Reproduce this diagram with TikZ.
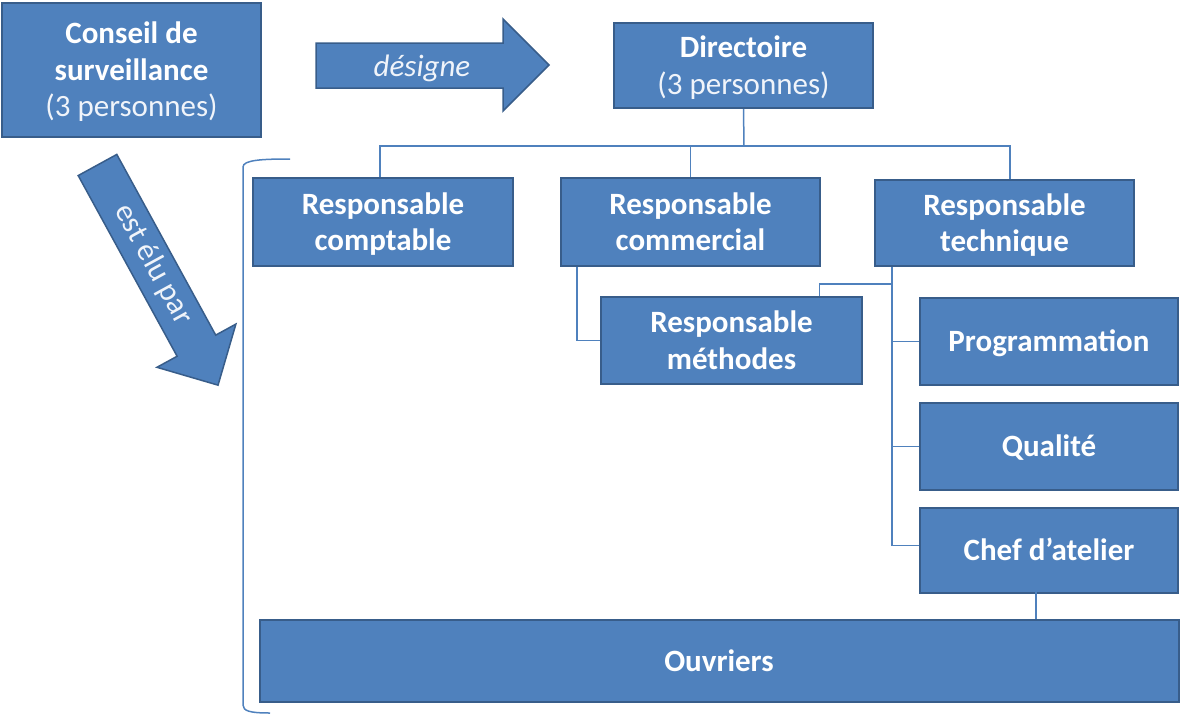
\documentclass[tikz,border=0pt]{standalone}
\usepackage{fontspec}
\setmainfont{Carlito}
\definecolor{boxfill}{RGB}{79,129,189}
\definecolor{boxline}{RGB}{56,93,138}
\definecolor{connline}{RGB}{79,129,189}
\definecolor{lighttext}{RGB}{240,244,250}
\newcommand\bs{\rule[-7.95pt]{0pt}{36.5pt}}
\begin{document}
\begin{tikzpicture}[x=1pt,y=-1pt,
  box/.style={rectangle, fill=boxfill, draw=boxline, line width=2pt, inner sep=0pt,
    text=white, align=center, font=\fontsize{31}{36.5}\selectfont\bfseries},
  conn/.style={draw=connline, line width=1.5pt},
  bigarrow/.style={fill=boxfill, draw=boxline, line width=1.5pt, line join=miter},
  arrowtext/.style={text=lighttext, font=\fontsize{31}{36}\selectfont, inner sep=0pt}]
\useasboundingbox (0,0) rectangle (1180,715);

% boxes
\node[box, minimum width=259pt, minimum height=134pt] (conseil) at (131.5,70)
  {\bs Conseil de\\\bs surveillance\\{\mdseries\color{lighttext}\bs(3 personnes)}};
\node[box, minimum width=259pt, minimum height=85pt] (dir) at (743.5,65.5)
  {\bs Directoire\\{\mdseries\color{lighttext}\bs(3 personnes)}};
\node[box, minimum width=260pt, minimum height=88pt] (rcompt) at (383,222) {\bs Responsable\\\bs comptable};
\node[box, minimum width=259pt, minimum height=88pt] (rcomm) at (690.5,222) {\bs Responsable\\\bs commercial};
\node[box, minimum width=259pt, minimum height=86pt] (rtech) at (1004.5,223) {\bs Responsable\\\bs technique};
\node[box, minimum width=261pt, minimum height=87pt] (rmeth) at (731.5,340.5) {\bs Responsable\\\bs méthodes};
\node[box, minimum width=258pt, minimum height=87pt] (prog) at (1049,341.5) {\bs Programmation};
\node[box, minimum width=258pt, minimum height=87pt] (qual) at (1049,446.5) {\bs Qualité};
\node[box, minimum width=258pt, minimum height=85pt] (chef) at (1049,550.5) {\bs Chef d’atelier};
\node[box, minimum width=919pt, minimum height=82pt] (ouv) at (719,661) {\bs Ouvriers};

% connectors from Directoire
\coordinate (bus) at (744,146);
\draw[conn] (dir.south) -- (bus);
\draw[conn] ([xshift=-3pt]rcompt.north) |- (bus) -| ([xshift=5.5pt]rtech.north);
\draw[conn] (rcomm.north) -- (rcomm.north |- bus);

% commercial -> methodes
\draw[conn] ([xshift=17pt]rcomm.south west) |- (rmeth.west);

% technique branches
\coordinate (tb) at ([xshift=18pt]rtech.south west);
\draw[conn] (tb) |- ([yshift=5pt]chef.west);
\draw[conn] (tb) |- (prog.west);
\draw[conn] (tb) |- (qual.west);
\draw[conn] (tb) -- ++(0,17) -| ([xshift=88pt]rmeth.north);

% chef -> ouvriers
\coordinate (c1) at (1036,566);
\draw[conn] (c1) -- (c1 |- ouv.north);

% bracket
\draw[conn] (290,159) .. controls (262,159) and (243,160) .. (243,167) -- (243,705)
  .. controls (243,711) and (250,713) .. (270,713);

% designe arrow
\draw[bigarrow] (316,43) -- (503,43) -- (503,19) -- (549,65) -- (503,111) -- (503,88) -- (316,88) -- cycle;
\node[arrowtext, font=\fontsize{31}{36}\selectfont\itshape] (designe) at (422,68) {désigne};

% est elu par arrow
\begin{scope}[shift={(97.5,165)}, rotate=-61.3]
  \draw[bigarrow] (0,-22) -- (206,-22) -- (206,-45) -- (251,0) -- (206,45) -- (206,22) -- (0,22) -- cycle;
\end{scope}
\node[arrowtext, rotate=-61.3] (elu) at (153.5,264.5) {est élu par};
\end{tikzpicture}
\end{document}
